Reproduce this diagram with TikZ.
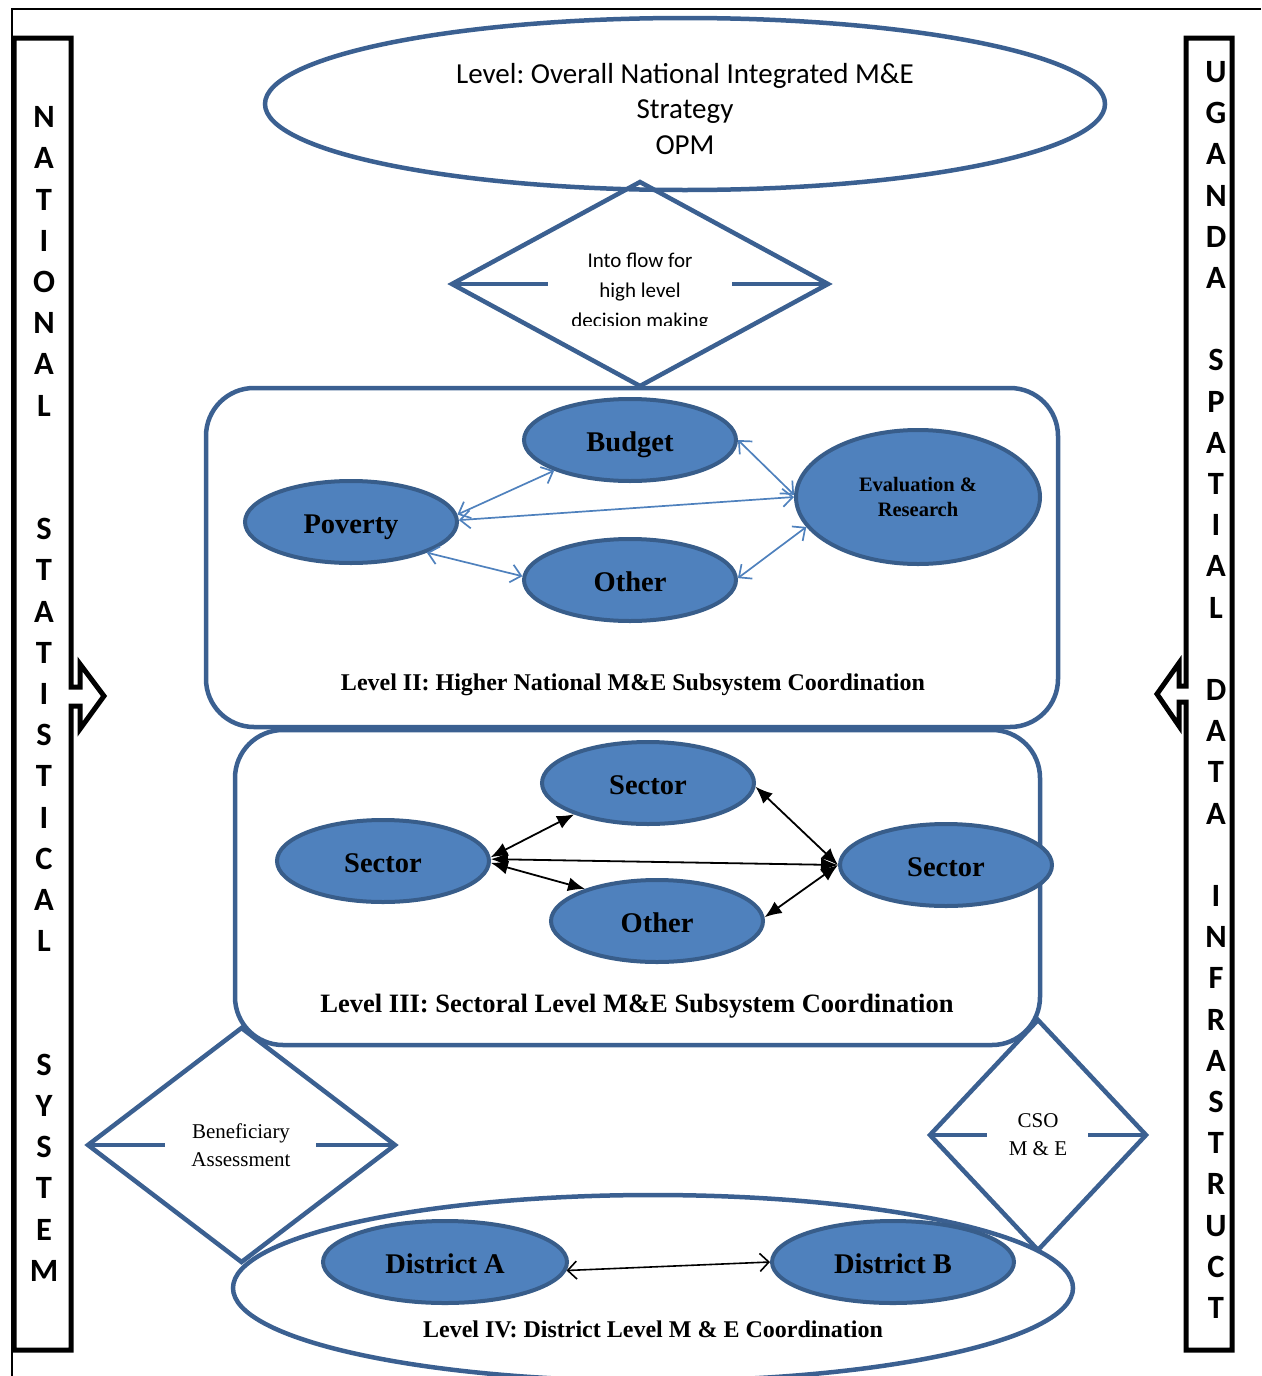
\documentclass[tikz,border=0pt]{standalone}
\usepackage{fontspec}
\setmainfont{Liberation Serif}
\newfontfamily\calib{Carlito}
\usetikzlibrary{shapes.geometric,arrows.meta}
\definecolor{shapeline}{HTML}{3B6091}
\definecolor{ovalfill}{HTML}{4F81BD}
\definecolor{ovalline}{HTML}{385D8A}
\tikzset{
  frameline/.style={line width=1.4pt, black},
  sidebar/.style={line width=5pt, black, line join=miter},
  barletters/.style={font=\calib\bfseries\fontsize{32.5}{41.2}\selectfont, align=center, inner sep=0pt},
  bigshape/.style={draw=shapeline, line width=4.5pt, inner sep=0pt, outer sep=0pt},
  levelbox/.style={bigshape, rectangle, rounded corners=48pt},
  diamondbox/.style={bigshape, diamond},
  stub/.style={draw=shapeline, line width=4.5pt},
  oval/.style={ellipse, draw=ovalline, fill=ovalfill, line width=4pt, inner sep=0pt, minimum width=212pt, minimum height=82pt, text height=22pt, text depth=0pt, font=\bfseries\fontsize{28.5}{30}\selectfont},
  bluearrow/.style={draw=ovalfill, line width=1.7pt, {Straight Barb[length=10pt,width=18pt]}-{Straight Barb[length=10pt,width=18pt]}},
  blackarrow/.style={draw=black, line width=1.8pt, {Latex[length=17pt,width=14pt]}-{Latex[length=17pt,width=14pt]}},
  thinarrow/.style={draw=black, line width=1.6pt, {Straight Barb[length=9pt,width=18pt]}-{Straight Barb[length=9pt,width=18pt]}},
  caltext/.style={font=\calib\fontsize{29}{35.5}\selectfont, align=center, inner sep=0pt},
  smallcal/.style={font=\calib\fontsize{21}{30}\selectfont, align=center, inner sep=0pt},
  serifsmall/.style={font=\fontsize{21}{28}\selectfont, align=center, inner sep=0pt},
  levellabel/.style={font=\bfseries\fontsize{24}{28}\selectfont, inner sep=0pt},
}
\begin{document}
\frenchspacing
\begin{tikzpicture}[x=1pt,y=-1pt]
\useasboundingbox (0,0) rectangle (1261,1376);
% frame lines
\coordinate (fA) at (12,9);
\coordinate (fB) at (1261,9);
\coordinate (fC) at (12,1376);
\draw[frameline] (fB) -- (fA) -- (fC);
% side bars
\draw[sidebar,fill=white] (71,687) -- (71,38) -- (14,38) -- (14,1350) -- (71,1350) -- (71,706) -- (80,706) -- (80,729) -- (104,696) -- (80,664) -- (80,687) -- cycle;
\draw[sidebar,fill=white] (1186,686) -- (1186,38) -- (1232,38) -- (1232,1350) -- (1186,1350) -- (1186,702) -- (1179,702) -- (1179,726) -- (1157,694) -- (1179,663) -- (1179,686) -- cycle;
\node[barletters] (leftword) at (44,694) {N\\A\\T\\I\\O\\N\\A\\L\\~\\~\\S\\T\\A\\T\\I\\S\\T\\I\\C\\A\\L\\~\\~\\S\\Y\\S\\T\\E\\M};
\node[barletters] (rightword) at (1216,690) {U\\G\\A\\N\\D\\A\\~\\S\\P\\A\\T\\I\\A\\L\\~\\D\\A\\T\\A\\~\\I\\N\\F\\R\\A\\S\\T\\R\\U\\C\\T};
% top ellipse
\node[bigshape, ellipse, minimum width=840pt, minimum height=172pt] (topell) at (685,104) {};
\node[caltext] (toptext) at (685,109) {Level: Overall National Integrated M\&E\\Strategy\\OPM};
% flow diamond
\node[diamondbox, minimum width=376pt, minimum height=204pt] (flow) at (640,284) {};
\coordinate (flowL) at (548,284);
\coordinate (flowR) at (732,284);
\draw[stub] (flow.west) -- (flowL);
\draw[stub] (flow.east) -- (flowR);
\begin{scope}
\clip (440,230) rectangle (840,325);
\node[smallcal] (flowtext) at (640,292) {Into flow for\\high level\\decision making};
\end{scope}
% Level II
\node[levelbox, minimum width=852pt, minimum height=339pt] (lvl2) at (632,557.5) {};
\node[levellabel] (lvl2lab) at (633,685) {Level II: Higher National M\&E Subsystem Coordination};
\node[oval] (budget) at (630,440) {Budget};
\node[oval] (poverty) at (351,522) {Poverty};
\node[oval] (other2) at (630,580) {Other};
\node[oval, minimum width=244pt, minimum height=134pt, text height=, text depth=, font=\bfseries\fontsize{20.5}{25}\selectfont, align=center] (eval) at (918,497) {Evaluation \&\\Research};
\draw[bluearrow] (poverty.4) -- (budget.202);
\draw[bluearrow] (poverty.1) -- (eval.180);
\draw[bluearrow] (poverty.338) -- (other2.178);
\draw[bluearrow] (budget.0) -- (eval.179);
\draw[bluearrow] (other2.1) -- (eval.195);
% Level III
\node[levelbox, minimum width=805pt, minimum height=315pt] (lvl3) at (637.5,887.5) {};
\node[levellabel, font=\bfseries\fontsize{26.5}{28}\selectfont] (lvl3lab) at (637,1006) {Level III: Sectoral Level M\&E Subsystem Coordination};
\node[oval] (sectT) at (648,783) {Sector};
\node[oval] (sectL) at (383,861) {Sector};
\node[oval] (sectR) at (946,865) {Sector};
\node[oval] (other3) at (657,921) {Other};
\draw[blackarrow] (sectL.2) -- (sectT.203);
\draw[blackarrow] (sectL.1) -- (sectR.180);
\draw[blackarrow] (sectL.359) -- (other3.156);
\draw[blackarrow] (sectT.358) -- (sectR.180);
\draw[blackarrow] (other3.2) -- (sectR.180);
% Beneficiary diamond
\node[diamondbox, minimum width=307pt, minimum height=234pt] (benef) at (241.5,1145) {};
\coordinate (benL) at (165,1145);
\coordinate (benR) at (316,1145);
\draw[stub] (benef.west) -- (benL);
\draw[stub] (benef.east) -- (benR);
\node[serifsmall] (beneftext) at (241,1145) {Beneficiary\\Assessment};
% CSO diamond
\node[diamondbox, minimum width=216pt, minimum height=230pt] (cso) at (1038,1135) {};
\coordinate (csoL) at (987,1135);
\coordinate (csoR) at (1088,1135);
\draw[stub] (cso.west) -- (csoL);
\draw[stub] (cso.east) -- (csoR);
\node[serifsmall] (csotext) at (1038,1135) {CSO\\M \& E};
% Level IV
\node[bigshape, ellipse, minimum width=840pt, minimum height=186pt] (lvl4) at (653,1288) {};
\node[levellabel] (lvl4lab) at (653,1329) {Level IV: District Level M \& E Coordination};
\node[oval, minimum width=244pt] (distA) at (445,1262) {District A};
\node[oval, minimum width=242pt] (distB) at (893,1262) {District B};
\draw[thinarrow] (distA.356) -- (distB.180);
\end{tikzpicture}
\end{document}
